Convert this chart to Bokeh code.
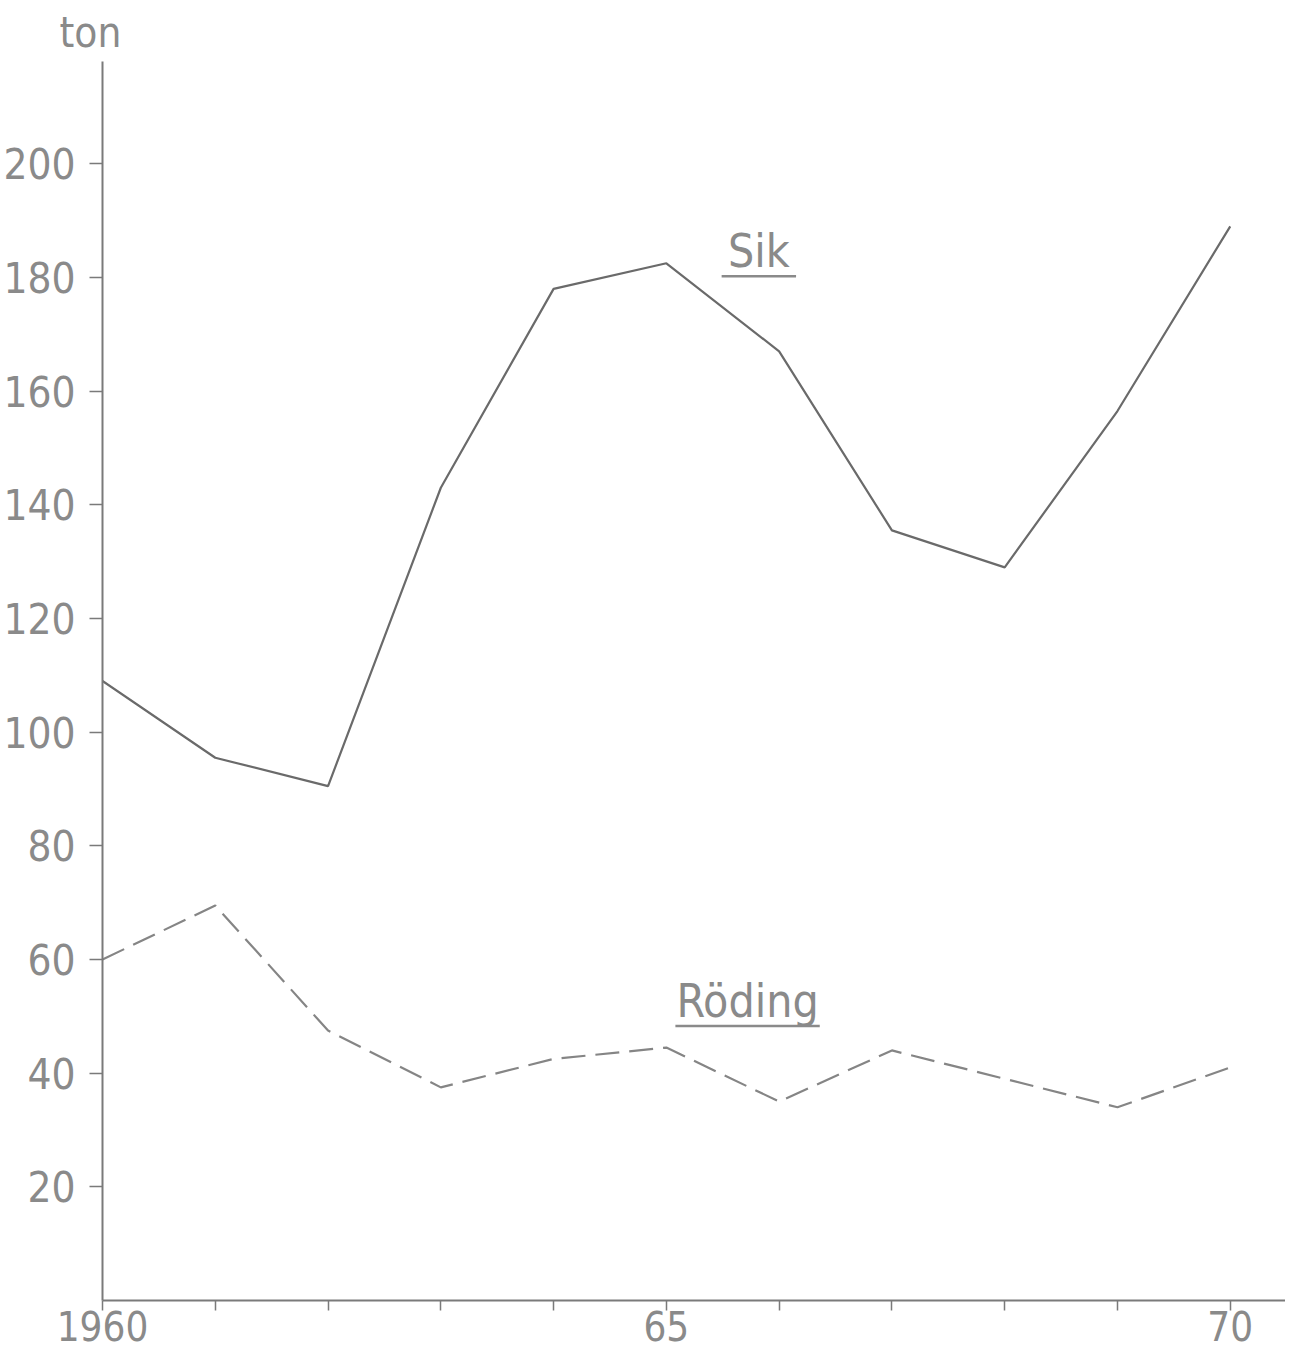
from bokeh.plotting import figure
from bokeh.models import FixedTicker, Label, Range1d
from bokeh.embed import file_html
from bokeh.resources import INLINE

# ---- data ----
years = [1960, 1961, 1962, 1963, 1964, 1965, 1966, 1967, 1968, 1969, 1970]
sik = [109, 95.5, 90.5, 143, 178, 182.5, 167, 135.5, 129, 156.5, 189]
roding = [60, 69.5, 47.5, 37.5, 42.5, 44.5, 35, 44, 39, 34, 41]

y_ticks = [20, 40, 60, 80, 100, 120, 140, 160, 180, 200]
x_ticks = years
x_tick_labels = {1960: "1960", 1965: "65", 1970: "70"}

series_names = ["Sik", "Röding"]
name_x = [1965.82, 1965.72]
name_y = [184.6, 52.7]
underline_y = [180.2, 48.3]
name_halfwidth = [0.33, 0.64]
unit_label = "ton"

FONT = "DejaVu Sans Condensed, Liberation Sans Narrow, Roboto Condensed, Roboto"
TXT = "#8a8a8a"
AX = "#7a7a7a"

p = figure(width=1285, height=1350,
           x_range=Range1d(1960, 1970.49), y_range=Range1d(0, 218),
           output_backend="svg", toolbar_location=None,
           min_border_left=97, min_border_right=0,
           min_border_top=60, min_border_bottom=50)
p.outline_line_color = None
p.grid.visible = False
p.background_fill_color = "white"
p.border_fill_color = "white"

# unit label as a left-aligned title above the axis
p.title.text = unit_label
p.title.align = "left"
p.title.offset = -43
p.title.standoff = 10
p.title.text_font = FONT
p.title.text_font_style = "normal"
p.title.text_font_size = "42px"
p.title.text_color = TXT

# axes
for ax in (p.xaxis[0], p.yaxis[0]):
    ax.axis_line_color = AX
    ax.axis_line_width = 2
    ax.major_tick_line_color = AX
    ax.major_tick_line_width = 1.5
    ax.major_tick_in = 0
    ax.minor_tick_line_color = None
    ax.major_label_text_font = FONT
    ax.major_label_text_color = TXT

p.xaxis.major_label_text_font_size = "40px"
p.xaxis.ticker = FixedTicker(ticks=x_ticks)
p.xaxis.major_label_overrides = {y: x_tick_labels.get(y, "") for y in x_ticks}
p.xaxis.major_tick_out = 10
p.xaxis.major_label_standoff = 0

p.yaxis.major_label_text_font_size = "42px"
p.yaxis.ticker = FixedTicker(ticks=y_ticks)
p.yaxis.major_tick_out = 13
p.yaxis.major_label_standoff = 14

# series
p.line(years, sik, line_color="#6a6a6a", line_width=2.2)
p.line(years, roding, line_color="#858585", line_width=2.2, line_dash="24 10")

# series names with underline
for nm, lx, ly in zip(series_names, name_x, name_y):
    p.add_layout(Label(x=lx, y=ly, text=nm, text_align="center",
                       text_baseline="alphabetic", text_font=FONT,
                       text_font_size="46px", text_color=TXT))
p.segment(x0=[x - h for x, h in zip(name_x, name_halfwidth)],
          y0=underline_y,
          x1=[x + h for x, h in zip(name_x, name_halfwidth)],
          y1=underline_y,
          line_color="#8a8a8a", line_width=2.5)

open("out.html", "w").write(file_html(p, INLINE))
